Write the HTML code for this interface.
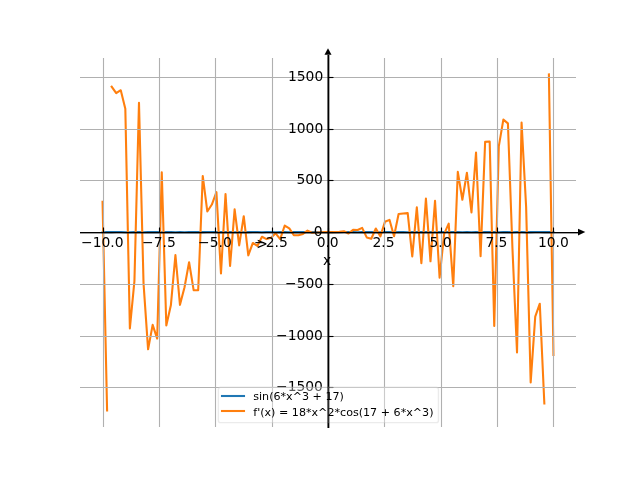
<!DOCTYPE html>
<html><head><meta charset="utf-8"><style>
html,body{margin:0;padding:0;background:#fff;width:640px;height:480px;overflow:hidden}
svg{display:block;will-change:transform}
text{fill:#000;font-family:'DejaVu Sans','Liberation Sans',sans-serif}
</style></head><body>
<svg width="640" height="480" viewBox="0 0 640 480">
<defs><clipPath id="c"><rect x="80" y="58" width="496" height="369"/></clipPath></defs>
<path d="M0,480 L640,480 L640,0 L0,0 Z" fill="#ffffff"/>
<path d="M80,427 L576,427 L576,58 L80,58 Z" fill="#ffffff"/>
<path d="M102.545,232.211 L107.1,232.102 L111.655,232.164 L116.209,232.054 L120.764,232.064 L125.319,232.168 L129.873,232.186 L134.428,232.012 L138.983,232.125 L143.537,232.203 L148.092,232.093 L152.646,232.05 L157.201,232.117 L161.756,232.192 L166.31,232.086 L170.865,232.048 L175.42,232.208 L179.974,232.065 L184.529,232.179 L189.084,232.015 L193.638,232.159 L198.193,232.074 L202.747,232.131 L207.302,232.013 L211.857,232.023 L216.411,232.159 L220.966,232.126 L225.521,232.093 L230.075,232.082 L234.63,232.181 L239.185,232.017 L243.739,232.191 L248.294,232.115 L252.848,232.021 L257.403,232.041 L261.958,232.208 L266.512,232.02 L271.067,232.018 L275.622,232.212 L280.176,232.165 L284.731,232.137 L289.286,232.184 L293.84,232.04 L298.395,232.137 L302.949,232.046 L307.504,232.116 L312.059,232.033 L316.613,232.16 L321.168,232.202 L325.723,232.208 L330.277,232.208 L334.832,232.212 L339.387,232.2 L343.941,232.081 L348.496,232.061 L353.051,232.099 L357.605,232.185 L362.16,232.091 L366.714,232.135 L371.269,232.081 L375.824,232.202 L380.378,232.202 L384.933,232.057 L389.488,232.061 L394.042,232.209 L398.597,232.093 L403.152,232.063 L407.706,232.169 L412.261,232.145 L416.815,232.056 L421.37,232.131 L425.925,232.139 L430.479,232.042 L435.034,232.178 L439.589,232.103 L444.143,232.005 L448.698,232.007 L453.253,232.074 L457.807,232.131 L462.362,232.199 L466.916,232.053 L471.471,232.209 L476.026,232.121 L480.58,232.208 L485.135,232.102 L489.69,232.142 L494.244,232.147 L498.799,232.171 L503.354,232.104 L507.908,232.15 L512.463,232.211 L517.017,232.068 L521.572,232.046 L526.127,232.211 L530.681,232.114 L535.236,232.022 L539.791,232.016 L544.345,232.109 L548.9,232.157 L553.455,232.187" fill="none" stroke="#1f77b4" stroke-width="2.083" stroke-linejoin="round" stroke-linecap="square" clip-path="url(#c)"/>
<path d="M102.545,201.862 L107.1,410.4 M111.655,86.648 L116.209,93.13 L120.764,90.242 L125.319,108.645 L129.873,328.397 L134.428,281.219 L138.983,102.799 L143.537,283.351 L148.092,349.328 L152.646,324.855 L157.201,338.584 L161.756,172.317 L166.31,325.395 L170.865,305.314 L175.42,255.04 L179.974,304.853 L184.529,287.277 L189.084,262.187 L193.638,290.086 L198.193,290.305 L202.747,175.963 L207.302,211.481 L211.857,204.547 L216.411,192.124 L220.966,273.454 L225.521,194.086 L230.075,266.011 L234.63,209.345 L239.185,245.423 L243.739,216.177 L248.294,255.331 L252.848,242.957 L257.403,245.914 L261.958,236.762 L266.512,239.113 L271.067,237.705 L275.622,233.283 L280.176,239.143 L284.731,225.521 L289.286,228.34 L293.84,235.298 L298.395,235.2 L302.949,233.931 L307.504,230.575 L312.059,232.738 L316.613,232.521 L321.168,232.183 L325.723,232.114 L330.277,232.114 L334.832,232.128 L339.387,231.884 L343.941,231.212 L348.496,233.471 L353.051,229.822 L357.605,229.944 L362.16,227.898 L366.714,237.418 L371.269,238.705 L375.824,228.545 L380.378,236.392 L384.933,221.821 L389.488,219.846 L394.042,236.244 L398.597,214.077 L403.152,213.586 L407.706,213.158 L412.261,256.5 L416.815,207.247 L421.37,263.269 L425.925,198.495 L430.479,261.312 L435.034,200.796 L439.589,277.639 L444.143,233.806 L448.698,223.582 L453.253,286.2 L457.807,171.869 L462.362,199.724 L466.916,172.75 L471.471,212.474 L476.026,152.458 L480.58,256.097 L485.135,141.905 L489.69,141.548 L494.244,326.053 L498.799,146.386 L503.354,119.617 L507.908,123.325 L512.463,248.724 L517.017,352.398 L521.572,122.642 L526.127,206.878 L530.681,382.357 L535.236,316.567 L539.791,303.709 L544.345,403.519 M548.9,74.4 L553.455,354.954" fill="none" stroke="#ff7f0e" stroke-width="2.083" stroke-linejoin="round" stroke-linecap="square" clip-path="url(#c)"/>
<path d="M103.5,427.5 L103.5,58.5" fill="none" stroke="#b0b0b0" stroke-width="1.111" stroke-linejoin="round" stroke-linecap="square" clip-path="url(#c)"/>
<path d="M103.5,232.5 L103.5,227.5" fill="none" stroke="#000000" stroke-width="1.111" stroke-linejoin="round" stroke-linecap="butt"/>
<text x="81.031" y="246.97" font-size="13.889">−10.0</text>
<path d="M159.5,427.5 L159.5,58.5" fill="none" stroke="#b0b0b0" stroke-width="1.111" stroke-linejoin="round" stroke-linecap="square" clip-path="url(#c)"/>
<path d="M159.5,232.5 L159.5,227.5" fill="none" stroke="#000000" stroke-width="1.111" stroke-linejoin="round" stroke-linecap="butt"/>
<text x="142.031" y="246.97" font-size="13.889">−7.5</text>
<path d="M215.5,427.5 L215.5,58.5" fill="none" stroke="#b0b0b0" stroke-width="1.111" stroke-linejoin="round" stroke-linecap="square" clip-path="url(#c)"/>
<path d="M215.5,232.5 L215.5,227.5" fill="none" stroke="#000000" stroke-width="1.111" stroke-linejoin="round" stroke-linecap="butt"/>
<text x="198.031" y="246.97" font-size="13.889">−5.0</text>
<path d="M272.5,427.5 L272.5,58.5" fill="none" stroke="#b0b0b0" stroke-width="1.111" stroke-linejoin="round" stroke-linecap="square" clip-path="url(#c)"/>
<path d="M272.5,232.5 L272.5,227.5" fill="none" stroke="#000000" stroke-width="1.111" stroke-linejoin="round" stroke-linecap="butt"/>
<text x="254.031" y="246.97" font-size="13.889">−2.5</text>
<path d="M328.5,427.5 L328.5,58.5" fill="none" stroke="#b0b0b0" stroke-width="1.111" stroke-linejoin="round" stroke-linecap="square" clip-path="url(#c)"/>
<path d="M328.5,232.5 L328.5,227.5" fill="none" stroke="#000000" stroke-width="1.111" stroke-linejoin="round" stroke-linecap="butt"/>
<text x="316.625" y="246.97" font-size="13.889">0.0</text>
<path d="M384.5,427.5 L384.5,58.5" fill="none" stroke="#b0b0b0" stroke-width="1.111" stroke-linejoin="round" stroke-linecap="square" clip-path="url(#c)"/>
<path d="M384.5,232.5 L384.5,227.5" fill="none" stroke="#000000" stroke-width="1.111" stroke-linejoin="round" stroke-linecap="butt"/>
<text x="372.5" y="246.97" font-size="13.889">2.5</text>
<path d="M441.5,427.5 L441.5,58.5" fill="none" stroke="#b0b0b0" stroke-width="1.111" stroke-linejoin="round" stroke-linecap="square" clip-path="url(#c)"/>
<path d="M441.5,232.5 L441.5,227.5" fill="none" stroke="#000000" stroke-width="1.111" stroke-linejoin="round" stroke-linecap="butt"/>
<text x="429.438" y="246.97" font-size="13.889">5.0</text>
<path d="M497.5,427.5 L497.5,58.5" fill="none" stroke="#b0b0b0" stroke-width="1.111" stroke-linejoin="round" stroke-linecap="square" clip-path="url(#c)"/>
<path d="M497.5,232.5 L497.5,227.5" fill="none" stroke="#000000" stroke-width="1.111" stroke-linejoin="round" stroke-linecap="butt"/>
<text x="485.375" y="246.97" font-size="13.889">7.5</text>
<path d="M553.5,427.5 L553.5,58.5" fill="none" stroke="#b0b0b0" stroke-width="1.111" stroke-linejoin="round" stroke-linecap="square" clip-path="url(#c)"/>
<path d="M553.5,232.5 L553.5,227.5" fill="none" stroke="#000000" stroke-width="1.111" stroke-linejoin="round" stroke-linecap="butt"/>
<text x="537.938" y="246.97" font-size="13.889">10.0</text>
<text x="323.094" y="264.525" font-size="13.889">x</text>
<path d="M80.5,387.5 L576.5,387.5" fill="none" stroke="#b0b0b0" stroke-width="1.111" stroke-linejoin="round" stroke-linecap="square" clip-path="url(#c)"/>
<path d="M328.5,387.5 L333.5,387.5" fill="none" stroke="#000000" stroke-width="1.111" stroke-linejoin="round" stroke-linecap="butt"/>
<text x="276.031" y="391.232" font-size="13.889">−1500</text>
<path d="M80.5,336.5 L576.5,336.5" fill="none" stroke="#b0b0b0" stroke-width="1.111" stroke-linejoin="round" stroke-linecap="square" clip-path="url(#c)"/>
<path d="M328.5,336.5 L333.5,336.5" fill="none" stroke="#000000" stroke-width="1.111" stroke-linejoin="round" stroke-linecap="butt"/>
<text x="276.031" y="339.525" font-size="13.889">−1000</text>
<path d="M80.5,284.5 L576.5,284.5" fill="none" stroke="#b0b0b0" stroke-width="1.111" stroke-linejoin="round" stroke-linecap="square" clip-path="url(#c)"/>
<path d="M328.5,284.5 L333.5,284.5" fill="none" stroke="#000000" stroke-width="1.111" stroke-linejoin="round" stroke-linecap="butt"/>
<text x="285.031" y="287.817" font-size="13.889">−500</text>
<path d="M80.5,232.5 L576.5,232.5" fill="none" stroke="#b0b0b0" stroke-width="1.111" stroke-linejoin="round" stroke-linecap="square" clip-path="url(#c)"/>
<path d="M328.5,232.5 L333.5,232.5" fill="none" stroke="#000000" stroke-width="1.111" stroke-linejoin="round" stroke-linecap="butt"/>
<text x="313.625" y="236.109" font-size="13.889">0</text>
<path d="M80.5,180.5 L576.5,180.5" fill="none" stroke="#b0b0b0" stroke-width="1.111" stroke-linejoin="round" stroke-linecap="square" clip-path="url(#c)"/>
<path d="M328.5,180.5 L333.5,180.5" fill="none" stroke="#000000" stroke-width="1.111" stroke-linejoin="round" stroke-linecap="butt"/>
<text x="296.438" y="184.401" font-size="13.889">500</text>
<path d="M80.5,129.5 L576.5,129.5" fill="none" stroke="#b0b0b0" stroke-width="1.111" stroke-linejoin="round" stroke-linecap="square" clip-path="url(#c)"/>
<path d="M328.5,129.5 L333.5,129.5" fill="none" stroke="#000000" stroke-width="1.111" stroke-linejoin="round" stroke-linecap="butt"/>
<text x="287.938" y="132.693" font-size="13.889">1000</text>
<path d="M80.5,77.5 L576.5,77.5" fill="none" stroke="#b0b0b0" stroke-width="1.111" stroke-linejoin="round" stroke-linecap="square" clip-path="url(#c)"/>
<path d="M328.5,77.5 L333.5,77.5" fill="none" stroke="#000000" stroke-width="1.111" stroke-linejoin="round" stroke-linecap="butt"/>
<text x="287.938" y="80.985" font-size="13.889">1500</text>
<path d="M328.5,428.05 L328.5,55" fill="none" stroke="#000000" stroke-width="1.111" stroke-linejoin="miter" stroke-linecap="butt"/>
<path d="M80,232.5 L578,232.5" fill="none" stroke="#000000" stroke-width="1.111" stroke-linejoin="miter" stroke-linecap="butt"/>

<text transform="matrix(1,0,0,1.2,256.3,249.4)" font-size="13.889">&gt;</text>
<path d="M220.62,422.6 L436.215,422.6 Q438.438,422.6 438.438,420.38 L438.438,389.422 Q438.438,387.2 436.215,387.2 L220.62,387.2 Q218.4,387.2 218.4,389.422 L218.4,420.38 Q218.4,422.6 220.62,422.6 Z" fill="#ffffff" fill-opacity="0.35" stroke="#cccccc" stroke-width="1.389" stroke-opacity="0.4" stroke-linejoin="miter" stroke-linecap="butt"/>
<path d="M222,396 L233,396 L244,396" fill="none" stroke="#1f77b4" stroke-width="2.083" stroke-linejoin="round" stroke-linecap="square"/>
<text x="253.25" y="399.644" font-size="11.111">sin(6*x^3 + 17)</text>
<path d="M222,411 L233,411 L244,411" fill="none" stroke="#ff7f0e" stroke-width="2.083" stroke-linejoin="round" stroke-linecap="square"/>
<text x="253.25" y="416.2" font-size="11.111">f&#39;(x) = 18*x^2*cos(17 + 6*x^3)</text>
<path d="M328.28,428 V55" stroke="#000" stroke-opacity="0.52" stroke-width="2.56" fill="none"/><path d="M80,232.9 H578" stroke="#000" stroke-opacity="0.5" stroke-width="1.6" fill="none"/><path d="M324.5,54.8 L331.5,54.8 L328,48.3 Z" fill="#000"/><path d="M578,228.8 L578,235.4 L585.3,232.1 Z" fill="#000"/>
</svg>
</body></html>
